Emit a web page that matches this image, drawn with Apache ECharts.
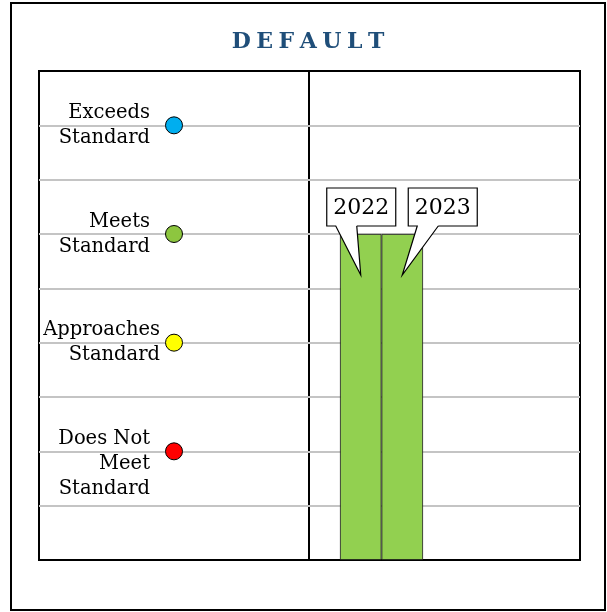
<!DOCTYPE html>
<html>
<head>
<meta charset="utf-8">
<script src="https://cdn.jsdelivr.net/npm/echarts@6/dist/echarts.min.js"></script>
<style>
  html, body { margin: 0; padding: 0; background: #fff; }
  #chart { width: 607px; height: 612px; }
</style>
</head>
<body>
<div id="chart"></div>
<script>
// performance levels (left panel)
var levelNames = ['Exceeds\nStandard', 'Meets\nStandard', 'Approaches\nStandard', 'Does Not\nMeet\nStandard']
var levelValues = [8, 6, 4, 2]
var levelColors = ['#00aeef', '#8dc63f', '#ffff00', '#ff0000']

// results (right panel)
var years = ['2022', '2023']
var scores = [6, 6]

var serif = 'DejaVu Serif'
// callout box left edge relative to bar center, px
var calloutBoxLeft = [-34, 6]

var chart = echarts.init(document.getElementById('chart'))

var yAxisBase = {
  type: 'value',
  min: 0,
  max: 9,
  interval: 1,
  axisLabel: { show: false },
  axisTick: { show: false },
  axisLine: { show: false },
  splitLine: {
    show: true,
    showMinLine: false,
    showMaxLine: false,
    lineStyle: { color: '#c4c4c4', width: 2 }
  }
}

var option = {
  animation: false,
  backgroundColor: '#fff',
  title: {
    text: 'DEFAULT'.split('').join('\u2005'),
    left: 303,
    top: 26,
    textAlign: 'center',
    textStyle: {
      fontFamily: serif,
      fontWeight: 'bold',
      fontSize: 22,
      color: '#1f4e79'
    }
  },
  graphic: [
    {
      type: 'rect',
      z: -10,
      shape: { x: 11, y: 3, width: 594, height: 607 },
      style: { fill: null, stroke: '#000', lineWidth: 2 }
    }
  ],
  grid: [
    { left: 39, top: 71, width: 270, height: 489, show: true, borderColor: '#000', borderWidth: 2, backgroundColor: 'transparent' },
    { left: 309, top: 71, width: 271, height: 489, show: true, borderColor: '#000', borderWidth: 2, backgroundColor: 'transparent' },
    { left: 340, top: 71, width: 83, height: 489 }
  ],
  xAxis: [
    { gridIndex: 0, type: 'category', data: ['level'], show: false },
    { gridIndex: 1, type: 'value', min: 0, max: 1, show: false },
    { gridIndex: 2, type: 'category', data: years, show: false }
  ],
  yAxis: [
    Object.assign({ gridIndex: 0 }, yAxisBase),
    Object.assign({ gridIndex: 1 }, yAxisBase),
    { gridIndex: 2, type: 'value', min: 0, max: 9, interval: 1, show: false, splitLine: { show: false } }
  ],
  series: [
    {
      type: 'scatter',
      xAxisIndex: 0,
      yAxisIndex: 0,
      symbolSize: 17,
      z: 3,
      data: levelValues.map(function (v, i) {
        return {
          value: [0, v],
          itemStyle: { color: levelColors[i] },
          label: { distance: i === 2 ? 5 : 15 }
        }
      }),
      itemStyle: { borderColor: '#000', borderWidth: 1, opacity: 1 },
      emphasis: { disabled: true },
      label: {
        show: true,
        position: 'left',
        align: 'right',
        verticalAlign: 'top',
        offset: [0, -25],
        fontFamily: serif,
        fontSize: 19.5,
        lineHeight: 25,
        color: '#000',
        opacity: 1,
        formatter: function (p) { return levelNames[p.dataIndex] }
      }
    },
    {
      type: 'bar',
      xAxisIndex: 2,
      yAxisIndex: 2,
      barWidth: '100%',
      barGap: 0,
      z: 2,
      data: scores,
      itemStyle: { color: '#92d050', borderColor: '#1a1a1a', borderWidth: 0.8 }
    },
    {
      type: 'custom',
      xAxisIndex: 2,
      yAxisIndex: 2,
      z: 5,
      clip: false,
      data: scores.map(function (s, i) { return [i, s] }),
      renderItem: function (params, api) {
        var top = api.coord([api.value(0), api.value(1)])
        var i = params.dataIndex
        var cx = top[0]
        var tipY = top[1] + 41
        var bx = cx + calloutBoxLeft[i]
        var by = top[1] - 46
        var w = 69
        var h = 38
        var t1 = bx + 9
        var t2 = bx + 30
        var pts = [[t2, by + h], [bx + w, by + h], [bx + w, by], [bx, by], [bx, by + h], [t1, by + h], [cx, tipY], [t2, by + h]]
        return {
          type: 'group',
          children: [
            {
              type: 'polygon',
              shape: { points: pts },
              style: { fill: '#fff', stroke: null }
            },
            {
              type: 'polyline',
              shape: { points: pts },
              style: { fill: null, stroke: '#000', lineWidth: 1.2 }
            },
            {
              type: 'text',
              style: {
                x: bx + w / 2,
                y: by + h / 2 + 1,
                text: years[i],
                align: 'center',
                verticalAlign: 'middle',
                font: '22px "DejaVu Serif"',
                fill: '#000'
              }
            }
          ]
        }
      }
    }
  ]
}

chart.setOption(option)
</script>
</body>
</html>
